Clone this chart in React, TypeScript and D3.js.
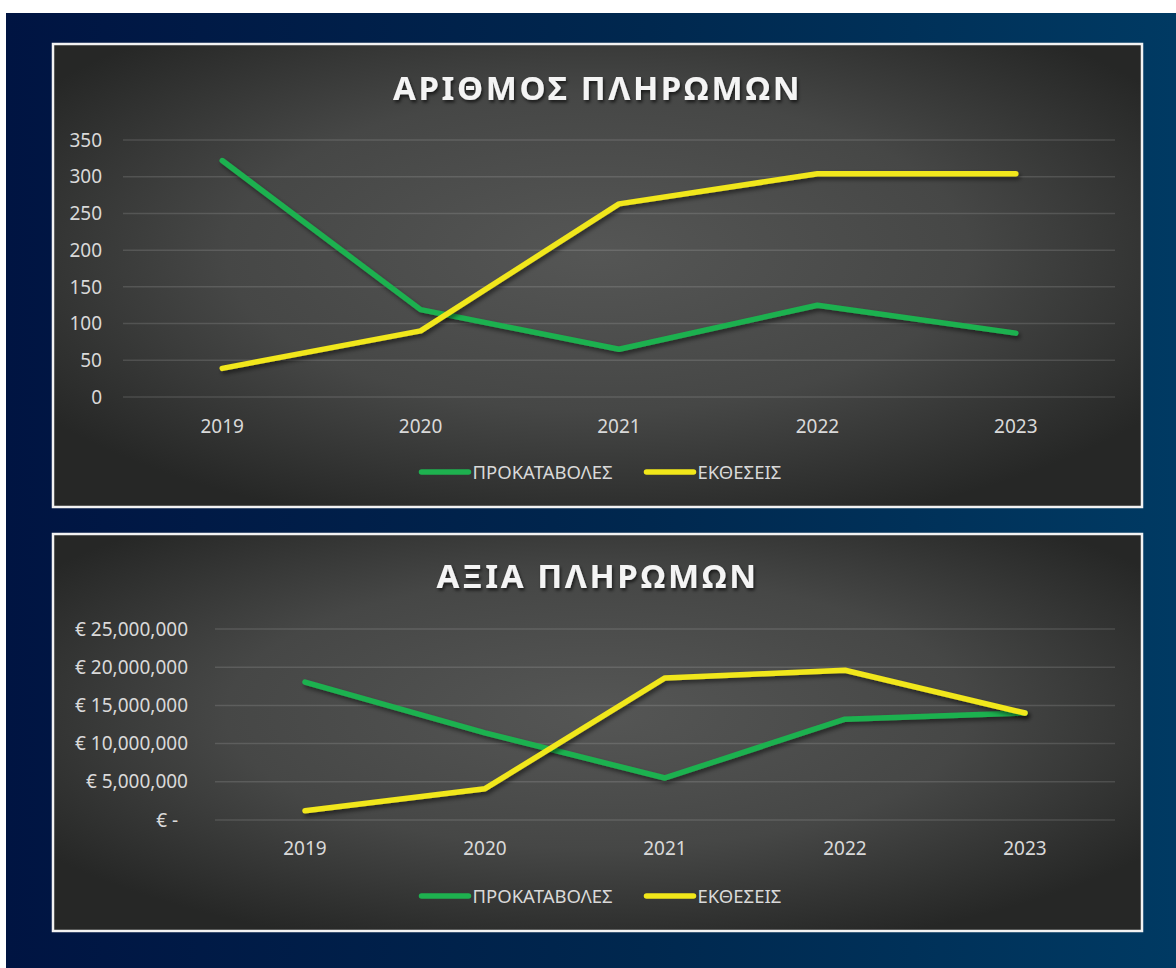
import React from 'react';
import * as d3 from 'd3';

// data
const years = ['2019', '2020', '2021', '2022', '2023'];
const seriesNames = ['ΠΡΟΚΑΤΑΒΟΛΕΣ', 'ΕΚΘΕΣΕΙΣ'];
const seriesColors = ['#1eb14f', '#f1e71a'];

const countAdvances = [322, 119, 65, 125, 87];
const countReports = [39, 90, 263, 304, 304];
const countTicks = [0, 50, 100, 150, 200, 250, 300, 350];

const valueAdvances = [18060000, 11400000, 5500000, 13200000, 14000000];
const valueReports = [1200000, 4100000, 18600000, 19600000, 14000000];
const valueTicks = [0, 5000000, 10000000, 15000000, 20000000, 25000000];

const euro = d3.format(',.0f');
const fmtValue = (v: number) => (v === 0 ? '€ -  ' : `€ ${euro(v)}`);
const fmtCount = (v: number) => String(v);

const FONT = "'Noto Sans', 'Open Sans', sans-serif";
const TXT = '#d9d9d9';

type PanelProps = {
  id: string;
  box: { x0: number; y0: number; x1: number; y1: number };
  title: string;
  titleY: number;
  plot: { left: number; right: number; top: number; bottom: number };
  domainMax: number;
  ticks: number[];
  fmt: (v: number) => string;
  labelX: number;
  yearY: number;
  legendY: number;
  series: number[][];
};

function Panel({ id, box, title, titleY, plot, domainMax, ticks, fmt, labelX, yearY, legendY, series }: PanelProps) {
  const x = d3.scaleBand<string>().domain(years).range([plot.left, plot.right]);
  const y = d3.scaleLinear().domain([0, domainMax]).range([plot.bottom, plot.top]);
  const cx = (d: string) => (x(d) as number) + x.bandwidth() / 2;
  const line = d3
    .line<number>()
    .x((_, i) => cx(years[i]))
    .y((v) => y(v));

  const mid = (box.x0 + box.x1) / 2;
  const legStart = mid - 178;

  return (
    <g>
      <rect
        x={box.x0}
        y={box.y0}
        width={box.x1 - box.x0}
        height={box.y1 - box.y0}
        fill={`url(#panelBg)`}
        stroke="#f2f2f2"
        strokeWidth={2.5}
      />
      <text
        x={mid}
        y={titleY}
        textAnchor="middle"
        fontFamily={FONT}
        fontWeight={700}
        fontSize={33}
        letterSpacing={2.6}
        fill="#f4f4f4"
        filter="url(#txtShadow)"
      >
        {title}
      </text>

      {ticks.map((t) => (
        <g key={`${id}-t${t}`}>
          <line
            x1={plot.left}
            x2={plot.right}
            y1={y(t)}
            y2={y(t)}
            stroke="rgba(255,255,255,0.13)"
            strokeWidth={1.5}
          />
          <text
            x={labelX}
            y={y(t)}
            dy="0.35em"
            textAnchor="end"
            fontFamily={FONT}
            fontSize={19}
            fill={TXT}
            style={{ whiteSpace: 'pre' }}
          >
            {fmt(t)}
          </text>
        </g>
      ))}

      {years.map((yr) => (
        <text
          key={`${id}-${yr}`}
          x={cx(yr)}
          y={yearY}
          textAnchor="middle"
          fontFamily={FONT}
          fontSize={19}
          fill={TXT}
        >
          {yr}
        </text>
      ))}

      {series.map((s, i) => (
        <path
          key={`${id}-s${i}`}
          d={line(s) || ''}
          fill="none"
          stroke={seriesColors[i]}
          strokeWidth={5.5}
          strokeLinecap="round"
          strokeLinejoin="round"
          filter="url(#lineShadow)"
        />
      ))}

      {seriesNames.map((name, i) => {
        const lx = legStart + i * 225;
        return (
          <g key={`${id}-l${i}`}>
            <line
              x1={lx + 2}
              x2={lx + 49}
              y1={legendY}
              y2={legendY}
              stroke={seriesColors[i]}
              strokeWidth={5.5}
              strokeLinecap="round"
            />
            <text x={lx + 53} y={legendY} dy="0.36em" fontFamily={FONT} fontSize={18.5} fill={TXT}>
              {name}
            </text>
          </g>
        );
      })}
    </g>
  );
}

export default function App() {
  return (
    <div>
      <style>{`body{margin:0;}`}</style>
      <svg width={1176} height={968} style={{ display: 'block' }}>
        <defs>
          <linearGradient id="navyBg" x1="0" y1="0" x2="1" y2="0">
            <stop offset="0" stopColor="#001442" />
            <stop offset="0.55" stopColor="#00284f" />
            <stop offset="1" stopColor="#003a63" />
          </linearGradient>
          <radialGradient id="panelBg" cx="0.5" cy="0.45" r="0.62">
            <stop offset="0" stopColor="#555655" />
            <stop offset="0.55" stopColor="#464746" />
            <stop offset="1" stopColor="#262726" />
          </radialGradient>
          <filter id="lineShadow" x="-10%" y="-20%" width="120%" height="140%">
            <feDropShadow dx={2} dy={3} stdDeviation={2} floodColor="#000" floodOpacity={0.5} />
          </filter>
          <filter id="txtShadow" x="-10%" y="-30%" width="120%" height="160%">
            <feDropShadow dx={1.5} dy={2.5} stdDeviation={1.5} floodColor="#000" floodOpacity={0.6} />
          </filter>
        </defs>
        <rect x={0} y={0} width={1176} height={968} fill="#ffffff" />
        <rect x={6} y={13} width={1170} height={955} fill="url(#navyBg)" />

        <Panel
          id="count"
          box={{ x0: 53, y0: 44, x1: 1142, y1: 507 }}
          title="ΑΡΙΘΜΟΣ ΠΛΗΡΩΜΩΝ"
          titleY={100}
          plot={{ left: 123, right: 1115, top: 140, bottom: 397 }}
          domainMax={350}
          ticks={countTicks}
          fmt={fmtCount}
          labelX={102}
          yearY={433}
          legendY={472}
          series={[countAdvances, countReports]}
        />

        <Panel
          id="value"
          box={{ x0: 53, y0: 534, x1: 1142, y1: 931 }}
          title="ΑΞΙΑ ΠΛΗΡΩΜΩΝ"
          titleY={588}
          plot={{ left: 215, right: 1115, top: 629, bottom: 820 }}
          domainMax={25000000}
          ticks={valueTicks}
          fmt={fmtValue}
          labelX={188}
          yearY={855}
          legendY={896}
          series={[valueAdvances, valueReports]}
        />
      </svg>
    </div>
  );
}
